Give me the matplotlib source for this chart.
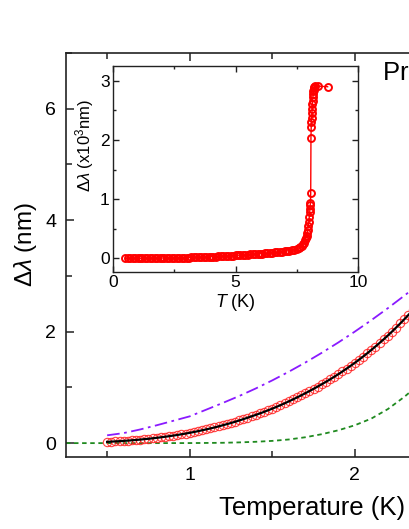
import matplotlib
matplotlib.use('Agg')
import matplotlib.pyplot as plt
from matplotlib.ticker import MultipleLocator

plt.rcParams['font.family'] = ['Liberation Sans', 'DejaVu Sans']
plt.rcParams['mathtext.fontset'] = 'custom'
plt.rcParams['mathtext.rm'] = 'Liberation Sans'
plt.rcParams['mathtext.it'] = 'Liberation Sans:italic'

# main panel: low temperature penetration depth (nm)
temp = [0.500, 0.525, 0.550, 0.575, 0.600, 0.625, 0.650, 0.675, 0.700, 0.725,
        0.750, 0.775, 0.800, 0.825, 0.850, 0.875, 0.900, 0.925, 0.950, 0.975,
        1.000, 1.025, 1.050, 1.075, 1.100, 1.125, 1.150, 1.175, 1.200, 1.225,
        1.250, 1.275, 1.300, 1.325, 1.350, 1.375, 1.400, 1.425, 1.450, 1.475,
        1.500, 1.525, 1.550, 1.575, 1.600, 1.625, 1.650, 1.675, 1.700, 1.725,
        1.750, 1.775, 1.800, 1.825, 1.850, 1.875, 1.900, 1.925, 1.950, 1.975,
        2.000, 2.025, 2.050, 2.075, 2.100, 2.125, 2.150, 2.175, 2.200, 2.225,
        2.250, 2.275, 2.300, 2.325, 2.350, 2.375, 2.400, 2.425, 2.450]
dlam = [0.023, 0.027, 0.031, 0.035, 0.040, 0.045, 0.051, 0.057, 0.063, 0.071,
        0.078, 0.086, 0.095, 0.104, 0.114, 0.124, 0.135, 0.146, 0.159, 0.171,
        0.185, 0.199, 0.214, 0.230, 0.246, 0.263, 0.281, 0.300, 0.320, 0.340,
        0.361, 0.383, 0.406, 0.430, 0.455, 0.481, 0.506, 0.532, 0.560, 0.589,
        0.618, 0.649, 0.681, 0.714, 0.748, 0.783, 0.819, 0.856, 0.894, 0.933,
        0.973, 1.014, 1.056, 1.099, 1.143, 1.189, 1.236, 1.285, 1.335, 1.387,
        1.440, 1.495, 1.552, 1.611, 1.671, 1.733, 1.797, 1.862, 1.930, 2.000,
        2.072, 2.146, 2.222, 2.300, 2.380, 2.462, 2.546, 2.632, 2.720]

# dash-dot and dotted model curves
t_purple = [0.5, 0.6, 0.7, 0.8, 0.9, 1.0, 1.1, 1.2, 1.3, 1.4, 1.5,
            1.6, 1.7, 1.8, 1.9, 2.0, 2.1, 2.2, 2.3, 2.4, 2.5]
l_purple = [0.14, 0.18, 0.245, 0.32, 0.40, 0.48, 0.60, 0.72, 0.845, 0.98, 1.125,
            1.28, 1.445, 1.62, 1.805, 2.0, 2.205, 2.42, 2.645, 2.88, 3.125]
t_green = [0.25, 0.4, 0.6, 0.8, 1.0, 1.1, 1.2, 1.3, 1.4, 1.5,
           1.6, 1.7, 1.8, 1.9, 2.0, 2.1, 2.2, 2.3, 2.4, 2.5]
l_green = [0.0, 0.0, 0.0, 0.0, 0.001, 0.003, 0.006, 0.013, 0.024, 0.04,
           0.065, 0.105, 0.16, 0.23, 0.32, 0.44, 0.61, 0.83, 1.08, 1.37]

# inset: full temperature range (x10^3 nm)
t_in = [0.5, 0.6, 0.7, 0.8, 0.9, 1.0, 1.1, 1.2, 1.3, 1.4, 1.5, 1.6, 1.7, 1.8, 1.9,
        2.0, 2.1, 2.2, 2.3, 2.4, 2.5, 2.6, 2.7, 2.8, 2.9, 3.0, 3.1, 3.2, 3.3, 3.4,
        3.5, 3.6, 3.7, 3.8, 3.9, 4.0, 4.1, 4.2, 4.3, 4.4, 4.5, 4.6, 4.7, 4.8, 4.9,
        5.0, 5.1, 5.2, 5.3, 5.4, 5.5, 5.6, 5.7, 5.8, 5.9, 6.0, 6.1, 6.2, 6.3, 6.4,
        6.5, 6.6, 6.7, 6.8, 6.9, 7.0, 7.1, 7.2, 7.3, 7.4, 7.5, 7.6, 7.65, 7.7, 7.75,
        7.8, 7.85, 7.88, 7.9, 7.93, 7.95, 7.97, 8.0, 8.01, 8.03, 8.04, 8.05, 8.06,
        8.07, 8.08, 8.09, 8.10, 8.11, 8.12, 8.13, 8.14, 8.15, 8.16, 8.17, 8.18,
        8.19, 8.20, 8.22, 8.24, 8.38, 8.76]
l_in = [0.000, 0.000, 0.001, 0.001, 0.002, 0.002, 0.002, 0.003, 0.003, 0.003,
        0.004, 0.004, 0.005, 0.005, 0.006, 0.006, 0.007, 0.008, 0.008, 0.009,
        0.010, 0.011, 0.011, 0.012, 0.013, 0.014, 0.015, 0.016, 0.017, 0.019,
        0.020, 0.021, 0.023, 0.025, 0.026, 0.028, 0.030, 0.032, 0.034, 0.036,
        0.038, 0.040, 0.043, 0.045, 0.048, 0.050, 0.053, 0.055, 0.058, 0.060,
        0.063, 0.066, 0.069, 0.072, 0.075, 0.078, 0.082, 0.085, 0.089, 0.093,
        0.097, 0.101, 0.105, 0.110, 0.115, 0.120, 0.126, 0.133, 0.140, 0.149,
        0.160, 0.180, 0.195, 0.210, 0.235, 0.260, 0.310, 0.350, 0.380, 0.430,
        0.480, 0.550, 0.620, 0.700, 0.780, 0.840, 0.900, 0.930, 1.110, 2.040,
        2.220, 2.300, 2.380, 2.450, 2.530, 2.600, 2.660, 2.720, 2.770, 2.820,
        2.850, 2.880, 2.900, 2.910, 2.910, 2.900]

fig = plt.figure(figsize=(4.09, 5.29), dpi=100)
ax = fig.add_axes([0.161, 0.136, 1.203, 0.764])

ax.plot(t_green, l_green, color='#1f8a1f', lw=1.3, ls=(0, (2.5, 2)))
ax.plot(t_purple, l_purple, color='#8a1aff', lw=1.3, ls=(0, (7, 2.5, 1.5, 2.5)))
ax.plot(temp, dlam, 'o', ms=6, mfc='none', mec='#ff2020', mew=0.8, alpha=0.85)
ax.plot(temp, dlam, '-', color='black', lw=1.6)

ax.set_xlim(0.25, 3.23)
ax.set_ylim(-0.25, 7.0)
ax.xaxis.set_major_locator(MultipleLocator(1))
ax.xaxis.set_minor_locator(MultipleLocator(0.5))
ax.yaxis.set_major_locator(MultipleLocator(2))
ax.yaxis.set_minor_locator(MultipleLocator(1))
ax.tick_params(which='both', direction='in', top=True, right=True, width=1.1,
               labelsize=14, pad=7, color='#222222')
ax.tick_params(which='major', length=6)
ax.tick_params(which='minor', length=4)
for s in ax.spines.values():
    s.set_linewidth(1.2)
    s.set_color('#222222')
ax.set_xlabel('Temperature (K)', fontsize=18.5, labelpad=9)
ax.set_ylabel(r'$\mathit{Δλ}$ (nm)', fontsize=17.5)
ax.yaxis.set_label_coords(-0.055, 0.525)
fig.text(0.934, 0.885, r'PrPt$_4$Ge$_{12}$', fontsize=18.5, va='top', ha='left')

ins = fig.add_axes([0.2763, 0.4858, 0.599, 0.3894])
ins.plot(t_in, l_in, '-o', color='red', lw=1.0, ms=5, mfc='none',
         mec='red', mew=1.4)
ins.set_xlim(0, 10)
ins.set_ylim(-0.23, 3.25)
ins.xaxis.set_major_locator(MultipleLocator(5))
ins.xaxis.set_minor_locator(MultipleLocator(2.5))
ins.yaxis.set_major_locator(MultipleLocator(1))
ins.yaxis.set_minor_locator(MultipleLocator(0.5))
ins.tick_params(which='both', direction='in', top=True, right=True, width=1.0,
                labelsize=12.5, pad=2.5, color='#222222')
ins.tick_params(which='major', length=4)
ins.tick_params(which='minor', length=2.5)
for s in ins.spines.values():
    s.set_linewidth(1.0)
    s.set_color('#222222')
ins.set_xlabel(r'$\mathit{T}$ (K)', fontsize=13, labelpad=1)
ins.set_ylabel(r'$\mathit{Δλ}$ (x10$^3$nm)', fontsize=12)
ins.yaxis.set_label_coords(-0.07, 0.615)

fig.savefig('out.png', dpi=100)
